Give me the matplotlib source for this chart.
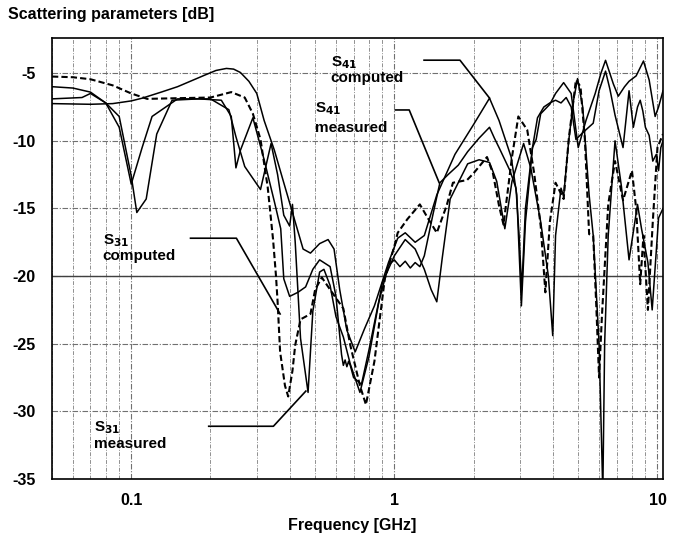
import numpy as np
import matplotlib
matplotlib.use("Agg")
import matplotlib.pyplot as plt
from matplotlib.ticker import FixedLocator, FixedFormatter, NullFormatter, LogLocator

plt.rcParams['font.family'] = ['Liberation Sans', 'DejaVu Sans']
plt.rcParams['axes.unicode_minus'] = False

# S41 computed (solid, smooth)
f_s41c = [0.05, 0.07, 0.085, 0.1, 0.11, 0.13, 0.15, 0.17, 0.19, 0.21,
          0.23, 0.245, 0.26, 0.28, 0.30, 0.32, 0.35, 0.38, 0.42, 0.45,
          0.48, 0.52, 0.56, 0.59, 0.62, 0.66, 0.71, 0.77, 0.84, 0.95,
          1.03, 1.1, 1.2, 1.3, 1.45, 1.7, 2.0, 2.3, 2.5, 2.78,
          2.92, 3.04, 3.15, 3.35, 3.46, 3.6, 3.9, 4.1, 4.4, 4.7,
          4.9, 5.0, 5.35, 5.8, 6.1, 6.35, 6.8, 7.1, 7.5, 7.8,
          8.3, 8.85, 9.3, 9.8, 10.1, 10.5]
db_s41c = [-7.25, -7.3, -7.25, -7.05, -6.85, -6.4, -6.0, -5.55, -5.15, -4.8,
           -4.65, -4.7, -4.95, -5.6, -6.5, -8.5, -10.7, -13.1, -16.0, -18.0,
           -18.3, -17.6, -17.3, -18.0, -21.0, -24.0, -25.6, -23.9, -22.2, -19.0,
           -17.2, -16.8, -17.5, -17.0, -14.0, -11.0, -8.8, -6.85, -8.5, -11.2,
           -14.0, -22.2, -16.0, -10.5, -9.9, -8.0, -7.3, -6.5, -5.7, -6.5,
           -9.2, -10.5, -8.5, -6.5, -5.0, -4.05, -5.8, -6.7, -6.0, -5.6,
           -5.2, -4.1, -5.5, -8.2, -7.5, -6.3]

# S41 measured (solid, noisy)
f_s41m = [0.05, 0.065, 0.07, 0.08, 0.09, 0.1, 0.105, 0.114, 0.125, 0.143,
          0.18, 0.22, 0.24, 0.25, 0.26, 0.29, 0.32, 0.35, 0.37, 0.38,
          0.40, 0.43, 0.46, 0.49, 0.52, 0.57, 0.6, 0.63, 0.64, 0.65,
          0.66, 0.67, 0.68, 0.70, 0.75, 0.8, 0.87, 0.95, 1.0, 1.05,
          1.1, 1.15, 1.2, 1.25, 1.3, 1.4, 1.49, 1.6, 1.75, 1.9,
          2.1, 2.3, 2.4, 2.5, 2.6, 2.75, 2.9, 2.98, 3.05, 3.15,
          3.35, 3.5, 3.7, 3.9, 4.1, 4.3, 4.5, 4.7, 4.9, 5.2,
          5.7, 6.0, 6.35, 6.6, 6.9, 7.4, 7.8, 8.1, 8.4, 8.6,
          8.8, 9.0, 9.3, 9.6, 9.9, 10.1, 10.3, 10.5]
db_s41m = [-6.9, -6.8, -6.5, -7.2, -8.2, -12.6, -15.3, -14.3, -9.5, -7.0,
           -6.9, -7.0, -8.2, -12.0, -10.7, -8.3, -11.4, -14.5, -16.5, -20.2,
           -21.5, -21.2, -20.8, -19.5, -18.8, -19.3, -21.5, -25.8, -26.6, -26.2,
           -26.7, -26.3, -26.6, -27.5, -28.0, -25.5, -22.0, -19.2, -18.8, -19.3,
           -18.9, -19.4, -19.0, -19.3, -18.5, -15.5, -13.1, -12.5, -11.8, -10.8,
           -9.8, -9.0, -9.8, -10.5, -11.2, -12.2, -13.5, -17.0, -21.0, -15.0,
           -10.5, -8.3, -7.5, -7.2, -7.0, -7.2, -6.8, -7.5, -9.9, -9.4,
           -8.7, -6.3, -4.85, -6.2, -8.1, -10.5, -6.3, -9.0, -7.5, -7.0,
           -7.8, -9.0, -9.6, -11.5, -11.0, -12.2, -10.5, -10.0]

# S31 measured (solid)
f_s31m = [0.05, 0.06, 0.07, 0.08, 0.09, 0.1, 0.11, 0.12, 0.15, 0.2,
          0.235, 0.25, 0.27, 0.31, 0.34, 0.36, 0.38, 0.40, 0.41, 0.42,
          0.44, 0.47, 0.49, 0.52, 0.54, 0.57, 0.6, 0.64, 0.68, 0.74,
          0.8, 0.9, 1.0, 1.1, 1.2, 1.3, 1.38, 1.45, 1.52, 1.63,
          1.77, 1.9, 2.1, 2.3, 2.45, 2.63, 2.8, 3.1, 3.3, 3.6,
          3.85, 4.0, 4.1, 4.3, 4.4, 4.6, 4.8, 4.97, 5.2, 5.5,
          5.7, 6.0, 6.2, 6.3, 6.5, 6.9, 7.3, 7.8, 8.4, 8.7,
          9.2, 9.55, 10.1, 10.5]
db_s31m = [-6.0, -6.1, -6.4, -7.2, -9.0, -13.2, -10.5, -8.2, -6.9, -6.9,
           -7.7, -9.7, -11.9, -13.6, -10.2, -12.5, -15.5, -16.3, -14.7, -17.5,
           -24.6, -28.6, -22.6, -19.7, -19.5, -20.7, -23.0, -24.5, -26.5, -28.6,
           -26.0, -20.5, -18.5, -17.3, -18.0, -19.5, -21.0, -21.9, -18.7, -14.3,
           -12.9, -11.7, -11.4, -11.6, -13.0, -16.5, -13.0, -10.2, -12.0, -16.0,
           -20.0, -24.4, -17.0, -13.5, -14.1, -10.0, -7.0, -5.4, -7.5, -14.0,
           -17.0, -25.0, -36.0, -25.0, -17.0, -10.0, -13.4, -18.8, -14.7, -16.5,
           -19.0, -22.5, -15.7, -15.0]

# S31 computed (dashed)
f_s31c = [0.05, 0.06, 0.07, 0.085, 0.1, 0.115, 0.15, 0.2, 0.24, 0.27,
          0.29, 0.31, 0.33, 0.346, 0.355, 0.36, 0.368, 0.384, 0.395, 0.41,
          0.42, 0.44, 0.48, 0.50, 0.53, 0.57, 0.64, 0.68, 0.74, 0.78,
          0.84, 0.92, 1.0, 1.03, 1.12, 1.25, 1.33, 1.45, 1.58, 1.67,
          1.89, 2.0, 2.25, 2.37, 2.5, 2.6, 2.8, 2.96, 3.2, 3.4,
          3.6, 3.75, 3.9, 4.1, 4.4, 4.6, 4.9, 5.1, 5.3, 5.5,
          5.7, 5.85, 6.0, 6.15, 6.5, 6.9, 7.4, 8.0, 8.3, 8.6,
          8.85, 9.2, 9.6, 10.0, 10.5]
db_s31c = [-5.25, -5.3, -5.45, -5.9, -6.5, -6.9, -6.85, -6.8, -6.4, -6.8,
           -8.0, -9.9, -13.4, -17.3, -20.0, -21.9, -25.6, -28.1, -28.9, -27.0,
           -25.1, -23.2, -22.8, -21.0, -20.1, -21.0, -22.4, -25.1, -28.1, -29.5,
           -26.3, -20.2, -17.8, -16.8, -15.8, -14.7, -15.6, -16.8, -14.8, -13.1,
           -12.9, -12.4, -11.2, -12.4, -14.8, -16.2, -11.2, -8.2, -9.2, -12.4,
           -16.3, -21.2, -16.0, -13.1, -14.3, -9.9, -5.5, -6.0, -9.9, -16.9,
           -17.0, -22.0, -27.5, -23.0, -14.7, -11.5, -14.4, -12.2, -15.0, -20.6,
           -17.0, -22.5, -16.0, -10.5, -9.5]

x_ticks = [0.1, 1, 10]
x_tick_labels = ['0.1', '1', '10']
y_ticks = [-35, -30, -25, -20, -15, -10, -5]

fig = plt.figure(figsize=(6.74, 5.42), dpi=100)
ax = fig.add_axes([0.0772, 0.1162, 0.9065, 0.8137])
ax.set_xscale('log')
ax.set_xlim(0.05, 10.5)
ax.set_ylim(-35, -2.4)

# grid
ax.xaxis.set_major_locator(FixedLocator(x_ticks))
ax.xaxis.set_major_formatter(FixedFormatter(x_tick_labels))
ax.xaxis.set_minor_locator(LogLocator(base=10, subs=np.arange(2, 10)))
ax.xaxis.set_minor_formatter(NullFormatter())
ax.set_yticks(y_ticks)
ax.set_yticklabels([str(v) for v in y_ticks])
ax.grid(True, which='major', color='#707070', lw=0.8, ls=(0, (5, 1.5, 1, 1.5)))
ax.grid(True, which='minor', axis='x', color='#909090', lw=0.7, ls=(0, (4, 1.5, 1, 1.5)))
ax.axhline(-20, color='#404040', lw=1.0)
ax.tick_params(which='both', length=0)
ax.tick_params(axis='y', pad=12, labelsize=11.5)
ax.tick_params(axis='x', pad=10, labelsize=11.5)
for lab in ax.get_xticklabels() + ax.get_yticklabels():
    lab.set_fontweight('bold')
for sp in ax.spines.values():
    sp.set_linewidth(1.2)
    sp.set_color('black')

# curves
ax.plot(f_s41c, db_s41c, color='black', lw=1.1)
ax.plot(f_s41m, db_s41m, color='black', lw=1.1)
ax.plot(f_s31m, db_s31m, color='black', lw=1.1)
ax.plot(f_s31c, db_s31c, color='black', lw=1.5, ls=(0, (3, 1.5)))

# annotation leaders
lead_kw = dict(color='black', lw=1.2)
ax.plot([1.297, 1.776, 2.30], [-4.04, -4.04, -6.84], **lead_kw)
ax.plot([1.009, 1.139, 1.48], [-7.72, -7.72, -13.09], **lead_kw)
ax.plot([0.168, 0.251, 0.368], [-17.2, -17.2, -22.8], **lead_kw)
ax.plot([0.197, 0.347, 0.461], [-31.1, -31.1, -28.5], **lead_kw)

txt_kw = dict(fontsize=11, fontweight='bold', ha='left', va='center')
ax.text(0.575, -4.2, 'S$_{\\mathbf{41}}$', **txt_kw)
ax.text(0.57, -5.35, 'computed', **txt_kw)
ax.text(0.50, -7.65, 'S$_{\\mathbf{41}}$', **txt_kw)
ax.text(0.50, -9.05, 'measured', **txt_kw)
ax.text(0.078, -17.35, 'S$_{\\mathbf{31}}$', **txt_kw)
ax.text(0.078, -18.55, 'computed', **txt_kw)
ax.text(0.072, -31.2, 'S$_{\\mathbf{31}}$', **txt_kw)
ax.text(0.072, -32.4, 'measured', **txt_kw)

fig.text(0.012, 0.974, 'Scattering parameters [dB]', fontsize=11.5, fontweight='bold', ha='left', va='center')
fig.text(0.522, 0.031, 'Frequency [GHz]', fontsize=11.5, fontweight='bold', ha='center', va='center')

fig.savefig('out.png', dpi=100)
